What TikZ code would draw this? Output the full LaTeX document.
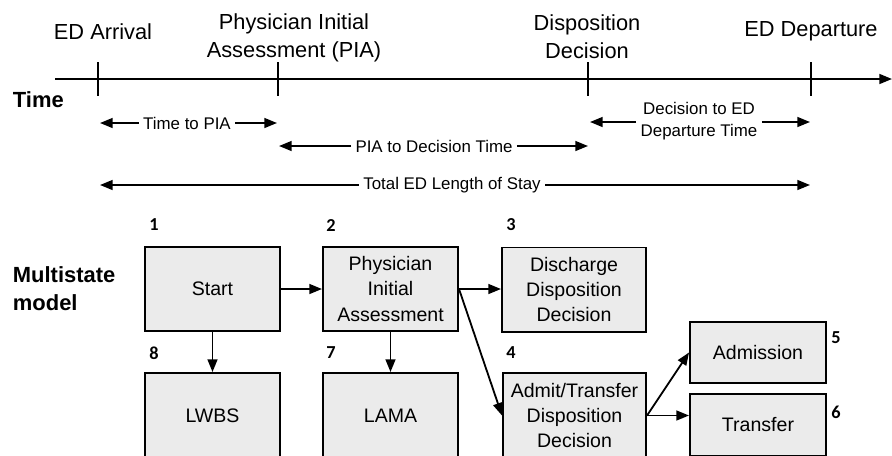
\documentclass[tikz,border=0pt]{standalone}
\usepackage{fontspec}
\setmainfont{Liberation Sans}
\newfontfamily\numfont{Carlito}
\usetikzlibrary{arrows.meta}

\begin{document}
\begin{tikzpicture}[x=0.025cm,y=-0.025cm,
    >={Triangle[length=9pt,width=7pt]},
    box/.style={draw,line width=1.4pt,fill=black!8,align=center,inner sep=0pt,
        font=\fontsize{13.9}{17.8}\selectfont},
    head/.style={align=center,font=\fontsize{15.5}{20}\selectfont},
    span/.style={align=center,inner sep=3pt,font=\fontsize{12}{15.6}\selectfont},
    num/.style={font=\numfont\fontsize{13}{15}\selectfont\bfseries},
    arr/.style={->,line width=1.3pt}]
    \useasboundingbox (0,0) rectangle (892,455);
    \clip (0,0) rectangle (892,455);

    \node[head] (arrival) at (103,32) {ED Arrival};
    \node[head] (assess) at (294,38) {Physician Initial\\Assessment (PIA)};
    \node[head] (decision) at (587,37) {Disposition\\Decision};
    \node[head] (departure) at (811,31) {ED Departure};
    \node[anchor=west,font=\fontsize{15.6}{20}\selectfont\bfseries] (time) at (8,100) {Time};

    \coordinate (axstart) at (55,79);
    \coordinate (axend) at (892,79);
    \draw [->,line width=1.4pt] (axstart) -- (axend);
    \foreach \x/\n in {98/arr,278/pia,588/dec,811/dep} {
        \coordinate (t\n) at (\x,79);
        \draw [line width=1.4pt] (\x,62) -- (\x,96);
    }

    \node[span] (ttp) at (187,123) {Time to PIA};
    \coordinate (ttpl) at (100,123);
    \coordinate (ttpr) at (277,123);
    \draw [arr] (ttp.west) -- (ttpl);
    \draw [arr] (ttp.east) -- (ttpr);

    \node[span] (ptd) at (434,146) {PIA to Decision Time};
    \coordinate (ptdl) at (279,146);
    \coordinate (ptdr) at (588,146);
    \draw [arr] (ptd.west) -- (ptdl);
    \draw [arr] (ptd.east) -- (ptdr);

    \node[span] (dtd) at (699,121) {Decision to ED\\Departure Time};
    \coordinate (dtdl) at (590,122);
    \coordinate (dtdr) at (810,122);
    \draw [arr] (dtd.west |- dtdl) -- (dtdl);
    \draw [arr] (dtd.east |- dtdr) -- (dtdr);

    \node[span] (los) at (452,185) {Total ED Length of Stay};
    \coordinate (losl) at (100,185);
    \coordinate (losr) at (810,185);
    \draw [arr] (los.west) -- (losl);
    \draw [arr] (los.east) -- (losr);

    \node[anchor=west,align=left,font=\fontsize{15.6}{20}\selectfont\bfseries] (msm) at (8,289) {Multistate\\model};

    \node[box,minimum width=3.375cm,minimum height=2.1cm] (start) at (212.5,289) {Start};
    \node[box,minimum width=3.375cm,minimum height=2.1cm] (pia) at (390.5,289) {Physician\\Initial\\Assessment};
    \node[box,minimum width=3.6cm,minimum height=2.1cm] (dis) at (574,289.5) {Discharge\\Disposition\\Decision};
    \node[box,minimum width=3.375cm,minimum height=2.125cm] (lwbs) at (212.5,415.5) {LWBS};
    \node[box,minimum width=3.375cm,minimum height=2.125cm] (lama) at (390.5,415.5) {LAMA};
    \node[box,minimum width=3.575cm,minimum height=2.125cm] (adm) at (574.5,415.5) {Admit/Transfer\\Disposition\\Decision};
    \node[box,minimum width=3.4cm,minimum height=1.525cm] (admission) at (758,352.5) {Admission};
    \node[box,minimum width=3.4cm,minimum height=1.55cm] (transfer) at (758,425) {Transfer};

    \node[num] (n1) at (154,225) {1};
    \node[num] (n2) at (331,225) {2};
    \node[num] (n3) at (511,225) {3};
    \node[num] (n4) at (511,353) {4};
    \node[num] (n5) at (836,338) {5};
    \node[num] (n6) at (836,412) {6};
    \node[num] (n7) at (331,353) {7};
    \node[num] (n8) at (154,353) {8};

    \draw [arr] (start) -- (pia);
    \draw [arr] (pia.east) -- (pia.east -| dis.west);
    \draw [arr] (pia.east) -- (adm.west);
    \draw [arr] (start) -- (lwbs);
    \draw [arr] (pia) -- (lama);
    \draw [arr] (adm.east) -- (admission.west);
    \draw [arr] (adm.east) -- (adm.east -| transfer.west);

\end{tikzpicture}
\end{document}
